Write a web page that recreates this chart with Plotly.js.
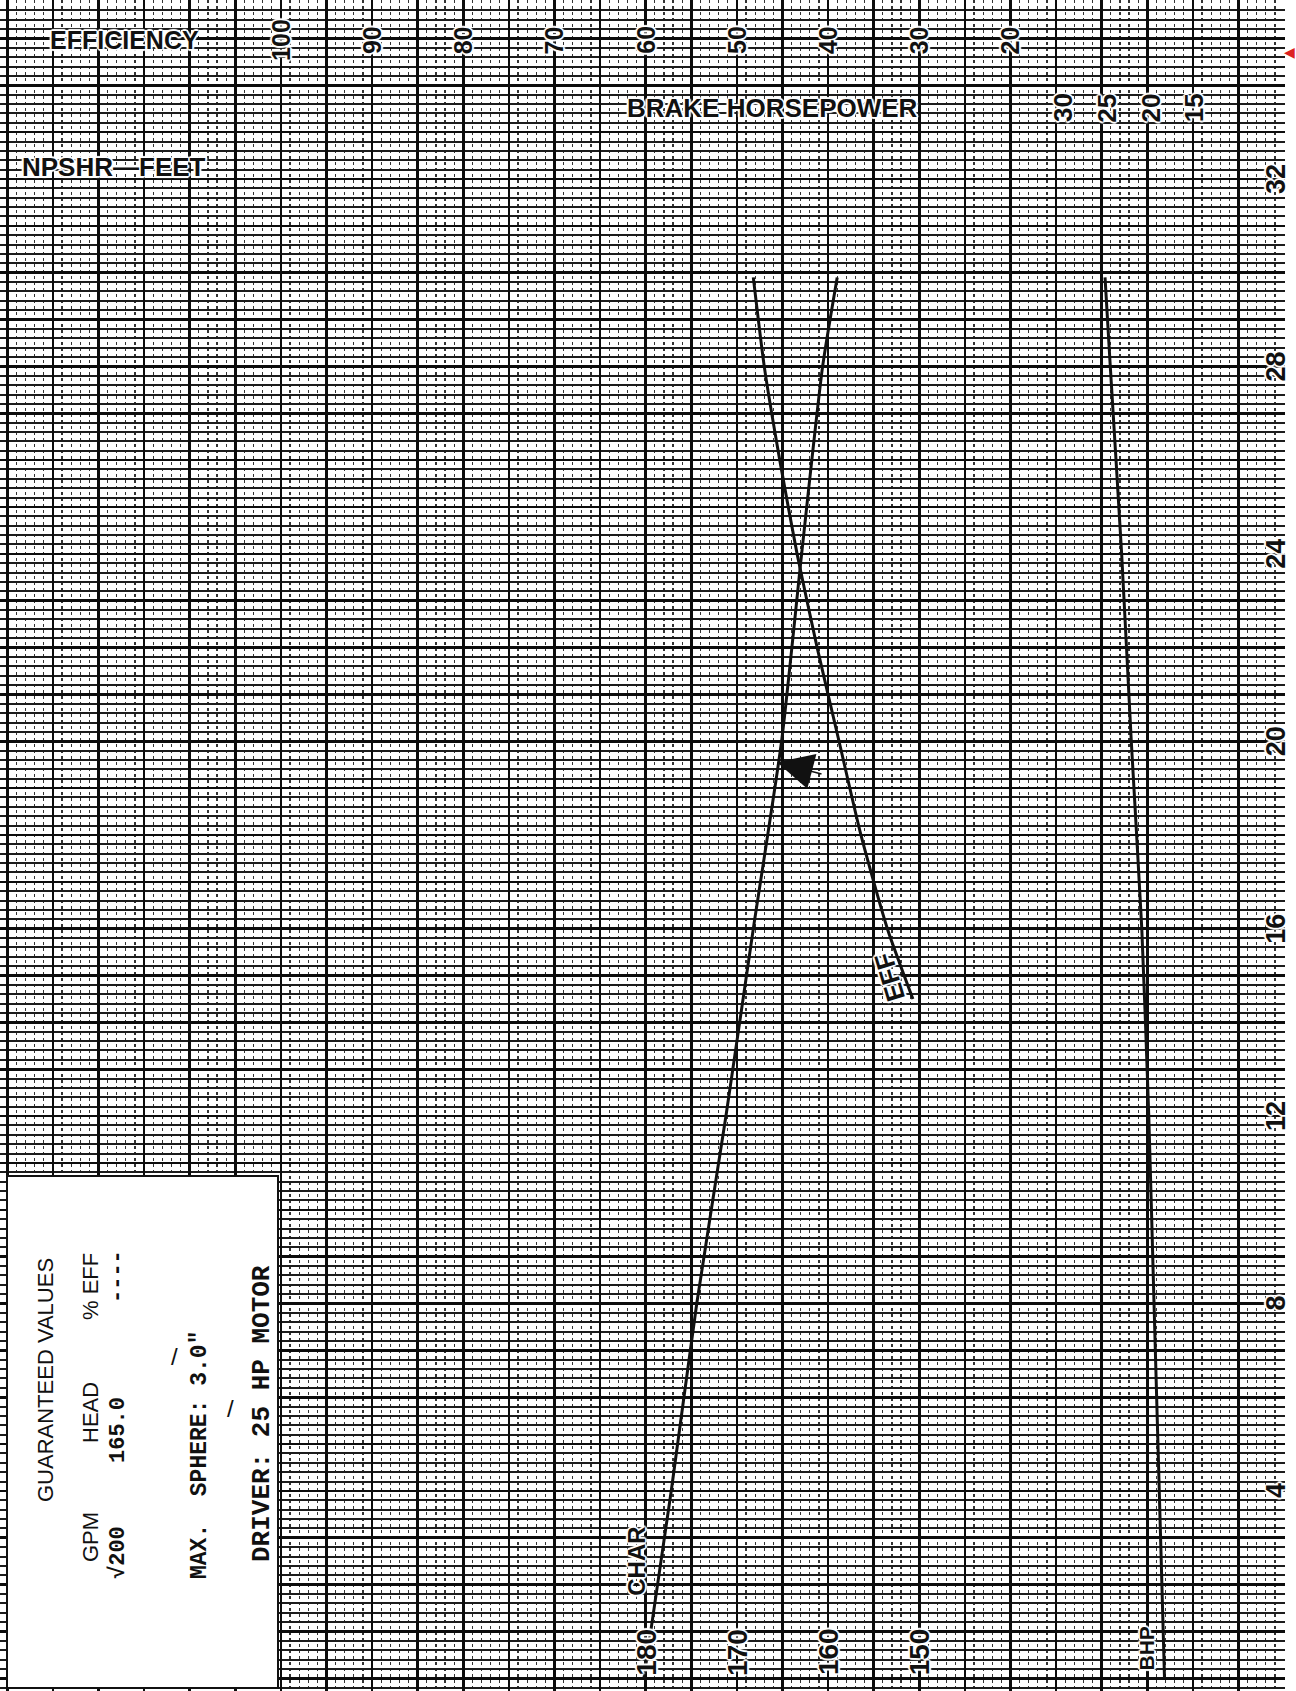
<!DOCTYPE html>
<html><head><meta charset="utf-8">
<script src="https://cdn.plot.ly/plotly-3.0.1.min.js"></script>
<style>html,body{margin:0;padding:0;background:#fff;}#chart{width:1296px;height:1691px;}</style>
</head><body><div id="chart"></div>
<script>
// ---- data (flow in tens of GPM) ----
const charFlow = [0, 4, 8, 12, 16, 20, 24, 28, 29.9];
const charHead = [180.2, 177.2, 174.4, 171.2, 168.2, 165.1, 162.9, 160.6, 159.0];
const effFlow  = [14.5, 16, 18, 20, 22, 24, 26, 28, 29.9];
const effPct   = [30.7, 33.5, 36.4, 38.8, 41.2, 43.4, 45.3, 47.0, 48.2];
const bhpFlow  = [0, 4, 8, 12, 16, 20, 24, 28, 29.9];
const bhpVal   = [18.4, 19.0, 19.6, 20.2, 21.0, 22.2, 23.3, 24.6, 25.2];
const guaranteedFlow = [19.55];
const guaranteedHead = [165.6];
const flowTicks = [4, 8, 12, 16, 20, 24, 28, 32];
const headTicks = [180, 170, 160, 150];
const effTicks  = [100, 90, 80, 70, 60, 50, 40, 30, 20];
const bhpTicks  = [30, 25, 20, 15];

// ---- layout helpers ----
const W = 1296, H = 1691, MR = 11, PW = W - MR;
const px = v => v / PW;           // pixel -> paper x
const py = v => 1 - v / H;        // pixel -> paper y
const SANS = 'Liberation Sans, Arial, sans-serif';
const MONO = 'Liberation Mono, DejaVu Sans Mono, monospace';
const INK = '#111';
const HALO = '1px 1px 1px #fff, -1px -1px 1px #fff, 1px -1px 1px #fff, -1px 1px 1px #fff, 0 2px 1px #fff, 0 -2px 1px #fff, 2px 0 1px #fff, -2px 0 1px #fff';

function f(size, family, halo) {
  const o = {family: family || SANS, size: size, color: INK};
  if (halo !== false) o.shadow = HALO;
  return o;
}
function ann(text, x, y, o) {
  o = o || {};
  return Object.assign({
    text: text, x: x, y: y, xref: 'paper', yref: 'paper', showarrow: false,
    xanchor: 'center', yanchor: 'middle', textangle: -90,
    font: f(22)
  }, o);
}

const lineStyle = {color: INK, width: 3, shape: 'spline', smoothing: 0.6};
const traces = [
  {x: charHead, y: charFlow, xaxis: 'x', yaxis: 'y', mode: 'lines', line: lineStyle, name: 'CHAR'},
  {x: effPct, y: effFlow, xaxis: 'x2', yaxis: 'y', mode: 'lines', line: lineStyle, name: 'EFF'},
  {x: bhpVal, y: bhpFlow, xaxis: 'x3', yaxis: 'y', mode: 'lines', line: lineStyle, name: 'BHP'}
];

const annotations = [];
effTicks.forEach(v => annotations.push(ann('<b>' + v + '</b>', v, py(40), {xref: 'x2', font: f(25)})));
bhpTicks.forEach(v => annotations.push(ann('<b>' + v + '</b>', v, py(108), {xref: 'x3', font: f(26)})));
flowTicks.forEach(v => annotations.push(ann('<b>' + v + '</b>', px(1276), v, {yref: 'y', font: f(27)})));
headTicks.forEach(v => annotations.push(ann('<b>' + v + '</b>', v, py(1652), {xref: 'x', font: f(28)})));

// axis titles (horizontal)
annotations.push(ann('<b>EFFICIENCY</b>', px(124), py(40), {textangle: 0, font: f(25)}));
annotations.push(ann('<b>BRAKE HORSEPOWER</b>', px(772), py(108), {textangle: 0, font: f(26)}));
annotations.push(ann('<b>NPSHR—FEET</b>', px(114), py(167), {textangle: 0, font: f(26)}));

// curve labels
annotations.push(ann('<b>CHAR</b>', 181.0, 2.5, {xref: 'x', yref: 'y', font: f(24)}));
annotations.push(ann('<b>EFF</b>', 33.2, 14.96, {xref: 'x2', yref: 'y', textangle: -106.7, font: f(26)}));
annotations.push(ann('<b>BHP</b>', 20.5, 0.64, {xref: 'x3', yref: 'y', font: f(21)}));

// guaranteed point arrow
annotations.push({x: guaranteedHead[0], y: guaranteedFlow[0], xref: 'x', yref: 'y', text: '',
  showarrow: true, arrowhead: 2, arrowsize: 4.8, arrowwidth: 1.5, arrowcolor: INK, ax: 46, ay: 12});

// guaranteed values box
annotations.push(ann('GUARANTEED VALUES', px(45), py(1380), {font: f(22, SANS, false)}));
annotations.push(ann('GPM', px(90), py(1537), {font: f(22, SANS, false)}));
annotations.push(ann('HEAD', px(90), py(1413), {font: f(22, SANS, false)}));
annotations.push(ann('% EFF', px(90), py(1287), {font: f(22, SANS, false)}));
annotations.push(ann('<b>√200</b>', px(118), py(1553), {font: f(22, MONO, false)}));
annotations.push(ann('<b>165.0</b>', px(118), py(1430), {font: f(22, MONO, false)}));
annotations.push(ann('<b>----</b>', px(117), py(1277), {font: f(22, MONO, false)}));
annotations.push(ann('<b>MAX.  SPHERE: 3.0"</b>', px(200), py(1455), {font: f(23, MONO, false)}));
annotations.push(ann('<b>DRIVER: 25 HP MOTOR</b>', px(262), py(1414), {font: f(26, MONO, false)}));
annotations.push(ann('/', px(174), py(1356), {textangle: 0, font: f(24, SANS, false)}));
annotations.push(ann('/', px(230), py(1408), {textangle: 0, font: f(24, SANS, false)}));
annotations.push(ann('◀', px(1289), py(52), {textangle: 0, font: {family: 'DejaVu Sans', size: 14, color: '#d22'}}));

const layout = {
  width: W, height: H,
  margin: {l: 0, r: MR, t: 0, b: 0, pad: 0},
  paper_bgcolor: '#fff', plot_bgcolor: '#fff',
  showlegend: false,
  xaxis: {
    range: [250.8, 109.9], showticklabels: false, ticks: '', zeroline: false, showline: false,
    showgrid: true, tick0: 0, dtick: 5, gridcolor: '#0c0c0c', gridwidth: 2.5,
    minor: {tick0: 0, dtick: 1, showgrid: true, gridcolor: '#333', gridwidth: 1.2, griddash: 'dot'}
  },
  xaxis2: {overlaying: 'x', anchor: 'y', range: [130.8, -10.1], visible: false},
  xaxis3: {overlaying: 'x', anchor: 'y', range: [151.5, 4.63], visible: false},
  yaxis: {
    range: [-0.27, 35.82], showticklabels: false, ticks: '', zeroline: false, showline: false,
    showgrid: true, tick0: 0, dtick: 1, gridcolor: '#0c0c0c', gridwidth: 2.6,
    minor: {tick0: 0, dtick: 0.2, showgrid: true, gridcolor: '#1c1c1c', gridwidth: 2}
  },
  shapes: [
    {type: 'rect', xref: 'paper', yref: 'paper', x0: px(7), x1: px(278), y0: py(1688), y1: py(1176),
     fillcolor: '#fff', line: {color: INK, width: 2}, layer: 'above'}
  ],
  annotations: annotations
};

Plotly.newPlot('chart', traces, layout, {staticPlot: true, displayModeBar: false});
</script></body></html>
